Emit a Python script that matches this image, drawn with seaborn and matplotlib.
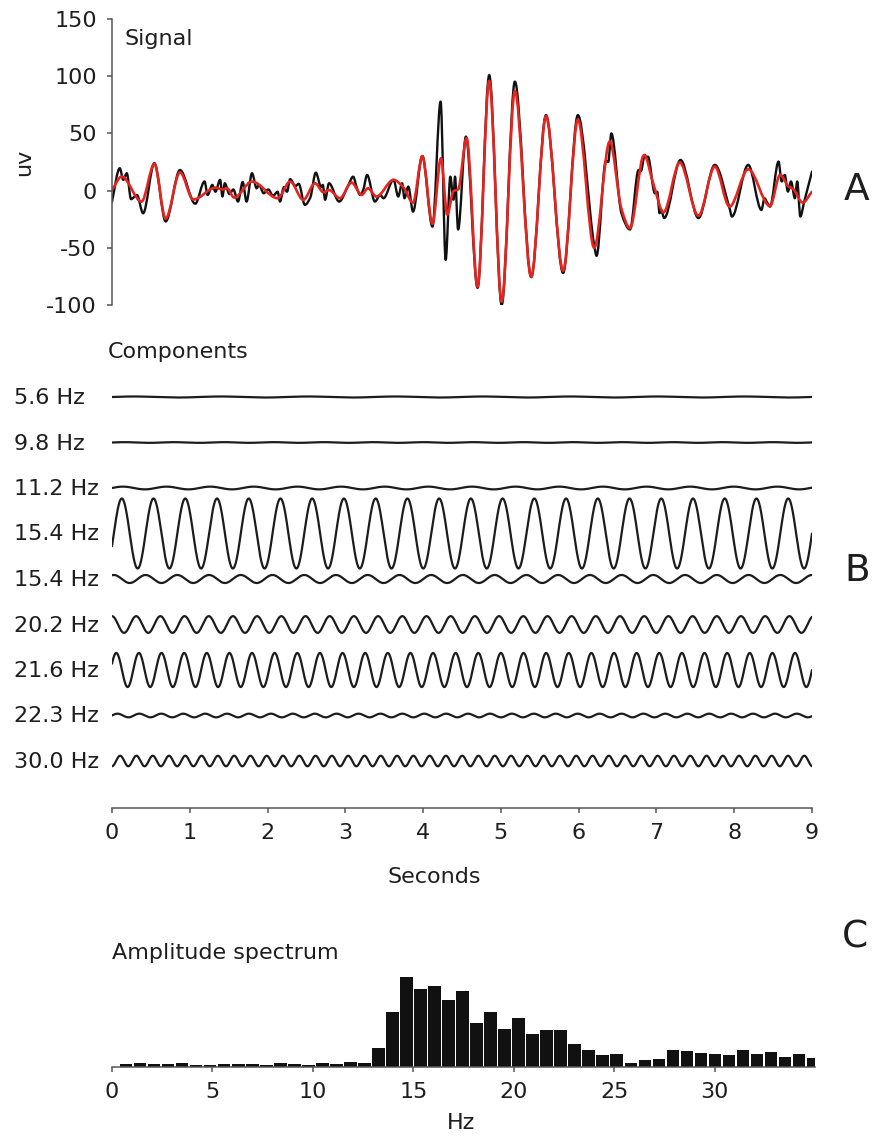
import numpy as np
import pandas as pd
import matplotlib
matplotlib.use("Agg")
import matplotlib.pyplot as plt
from matplotlib.path import Path
from matplotlib.patches import PathPatch
import seaborn as sns

# ---------------- data ----------------
# Panel A: filtered signal (red) - extrema/turning points, seconds / uV
signal_t = [0.00, 0.125, 0.38, 0.545, 0.69, 0.874, 1.045, 1.33, 1.42, 1.48, 1.57, 1.80, 2.13,
            2.29, 2.46, 2.61, 2.72, 2.79, 2.93, 3.08, 3.21, 3.29, 3.40, 3.62, 3.75, 3.87,
            3.99, 4.12, 4.23, 4.31, 4.39, 4.45, 4.56, 4.70, 4.85, 5.01, 5.18, 5.39, 5.58,
            5.80, 5.99, 6.20, 6.40, 6.55, 6.66, 6.84, 6.97, 7.09, 7.30, 7.54, 7.75, 7.94,
            8.18, 8.46, 8.59, 8.70, 8.76, 8.88, 9.00]
signal_v = [0.5, 12.3, -9.6, 23.3, -24.5, 16.0, -7.8, 2.5, 1.0, 2.0, -6.1, 7.9, -6.7,
            7.9, -8.1, 6.4, -1.5, 0.5, -6.7, 7.0, -3.8, 2.0, -5.2, 9.4, 2.5, -10.5,
            30.0, -29.0, 28.3, -21.0, -0.5, 1.0, 45.8, -84.0, 96.0, -97.0, 87.0, -75.5, 65.0,
            -70.0, 62.0, -50.0, 43.0, -16.0, -32.9, 31.0, 3.5, -19.0, 24.5, -22.0, 21.0, -14.0,
            18.7, -13.5, 13.7, 3.5, 1.2, -10.5, -0.9]

# Panel A: raw signal (black) - extrema/turning points, seconds / uV
raw_t = [0.00, 0.10, 0.145, 0.19, 0.245, 0.32, 0.40, 0.545, 0.69, 0.874, 1.07, 1.19, 1.23,
         1.29, 1.33, 1.39, 1.42, 1.45, 1.51, 1.56, 1.62, 1.68, 1.73, 1.80, 1.86, 1.89,
         1.95, 2.01, 2.07, 2.13, 2.16, 2.21, 2.25, 2.29, 2.36, 2.40, 2.48, 2.55, 2.62,
         2.69, 2.71, 2.74, 2.79, 2.92, 3.04, 3.10, 3.15, 3.19, 3.23, 3.28, 3.38, 3.45,
         3.49, 3.62, 3.68, 3.73, 3.76, 3.81, 3.87, 3.99, 4.12, 4.225, 4.29, 4.35, 4.39,
         4.41, 4.45, 4.55, 4.70, 4.85, 5.01, 5.18, 5.39, 5.58, 5.80, 5.99, 6.20, 6.23,
         6.35, 6.38, 6.42, 6.55, 6.66, 6.77, 6.80, 6.85, 6.87, 6.89, 6.98, 7.01, 7.04,
         7.06, 7.10, 7.31, 7.54, 7.75, 7.94, 7.97, 8.18, 8.35, 8.39, 8.42, 8.46, 8.57,
         8.61, 8.65, 8.69, 8.73, 8.78, 8.81, 8.85, 8.90, 9.00]
raw_v = [-9.6, 19.6, 9.4, 15.2, -7.5, -3.8, -19.8, 24.0, -27.0, 18.0, -11.5, 8.0, -3.8,
         5.0, -1.0, 9.4, -5.2, 6.4, -3.0, 1.0, -9.6, 7.5, -9.6, 15.2, 2.0, 5.0,
         -2.3, 1.0, -4.5, -1.0, -9.6, 3.0, -1.0, 10.0, 4.0, 6.0, -12.5, -6.0, 15.7,
         3.0, 5.0, -8.0, 6.4, -9.6, 5.0, 12.2, 2.0, -3.8, 0.6, 13.7, -9.6, -3.8,
         -6.7, 9.4, -5.2, 6.4, -6.7, 3.5, -18.4, 30.3, -31.5, 77.8, -60.6, 12.2, -8.0,
         12.2, -34.0, 47.2, -85.0, 101.0, -100.0, 95.3, -75.5, 66.0, -72.0, 66.0, -48.0, -57.0,
         26.0, 25.0, 50.0, -19.8, -34.0, 18.0, 17.0, 31.2, 29.0, 29.7, -2.3, -1.0, -19.8,
         -17.0, -24.0, 26.8, -24.0, 22.5, -15.4, -22.7, 22.5, -16.9, -6.7, -10.0, -14.0, 25.4,
         8.0, 13.7, -0.9, 8.0, -6.7, 8.0, -22.7, -9.6, 16.6]

# Panel B: components
comp_labels = ["5.6 Hz", "9.8 Hz", "11.2 Hz", "15.4 Hz", "15.4 Hz",
               "20.2 Hz", "21.6 Hz", "22.3 Hz", "30.0 Hz"]
comp_freq = [5.6, 9.8, 11.2, 15.4, 15.4, 20.2, 21.6, 22.3, 30.0]
comp_amp = [0.45, 0.3, 1.2, 30.6, 3.5, 7.3, 14.9, 1.6, 4.6]          # uV
comp_phase = [0.0, 0.0, 0.0, -0.37, 1.2, 1.571, 0.38, 0.0, -1.571]   # rad

# Panel C: amplitude spectrum (bins of 2*pi/9 Hz, k = 1..50)
spec_amp = [3, 3.7, 3, 3, 3.7, 2, 2.3, 2.7, 2.7, 3, 2, 3.7, 2.7, 2, 4, 3.3, 5, 3.7,
            18.7, 55, 90, 78, 81.5, 67, 76, 44, 55.5, 38, 49.5, 33, 36.7, 36.7, 22.7,
            17.3, 11.7, 13.3, 4.3, 6.7, 7.7, 17.3, 16, 14.3, 12.7, 11.7, 17.3, 12.7,
            15, 10, 13.3, 9.3]
spec_freq = np.arange(1, len(spec_amp) + 1) * (2 * np.pi / 9)

yticks_A = [-100, -50, 0, 50, 100, 150]
xticks_B = list(range(0, 10))
xticks_C = [0, 5, 10, 15, 20, 25, 30]

# ---------------- style ----------------
sns.set_theme(style="ticks")
plt.rcParams["font.family"] = ["DejaVu Sans"]
plt.rcParams["axes.unicode_minus"] = False

W, H = 879, 1137
FS = 16
TXT = "#1e1e1e"
AX = "#555555"
fig = plt.figure(figsize=(W / 100, H / 100), dpi=100)


def fx(px):
    return px / W


def fy(py):
    return 1 - py / H


def smooth_path(t, v):
    t = np.asarray(t, float)
    v = np.asarray(v, float)
    d = np.diff(v) / np.diff(t)
    m = np.zeros_like(v)
    m[0], m[-1] = d[0], d[-1]
    for i in range(1, len(v) - 1):
        if d[i - 1] * d[i] > 0:
            m[i] = 2.0 / (1.0 / d[i - 1] + 1.0 / d[i])
    verts = [(t[0], v[0])]
    codes = [Path.MOVETO]
    for i in range(len(t) - 1):
        h = t[i + 1] - t[i]
        verts += [(t[i] + h / 3, v[i] + m[i] * h / 3),
                  (t[i + 1] - h / 3, v[i + 1] - m[i + 1] * h / 3),
                  (t[i + 1], v[i + 1])]
        codes += [Path.CURVE4] * 3
    return Path(verts, codes)


def style_axis(ax):
    for s in ax.spines.values():
        s.set_color(AX)
        s.set_linewidth(1.1)
    ax.tick_params(colors=AX, labelcolor=TXT, labelsize=FS, width=1.1, length=3.8)
    ax.set_facecolor("none")


# ---------------- Panel A ----------------
axA = fig.add_axes([fx(112), fy(305), 700 / W, 286 / H])
axA.set_xlim(0, 9)
axA.set_ylim(-100, 150)
axA.add_patch(PathPatch(smooth_path(raw_t, raw_v), fill=False, edgecolor="#111111",
                        lw=1.7, joinstyle="round", capstyle="round"))
axA.add_patch(PathPatch(smooth_path(signal_t, signal_v), fill=False, edgecolor="#e3241f",
                        lw=1.9, joinstyle="round", capstyle="round"))
style_axis(axA)
axA.spines["top"].set_visible(False)
axA.spines["right"].set_visible(False)
axA.spines["bottom"].set_visible(False)
axA.set_xticks([])
axA.set_yticks(yticks_A)
axA.set_yticklabels([str(v) for v in yticks_A])
axA.tick_params(axis="y", pad=7)

fig.text(fx(125), fy(45), "Signal", fontsize=FS, color=TXT, va="baseline", ha="left")
fig.text(fx(24), fy(162), "uv", fontsize=FS, color=TXT, rotation=90, va="center", ha="center")
fig.text(fx(857), fy(190), "A", fontsize=27, color=TXT, va="center", ha="center")

# ---------------- Panel B ----------------
axB = fig.add_axes([fx(112), fy(808), 700 / W, 438 / H])
scale_px = 1.144          # pixels per uV (same as panel A)
row_gap = 45.5 / scale_px
top_row = 411 / scale_px
axB.set_xlim(0, 9)
axB.set_ylim(0, 438 / scale_px)

t = np.linspace(0, 9, 4000)
frames = []
for i, (f, a, p) in enumerate(zip(comp_freq, comp_amp, comp_phase)):
    frames.append(pd.DataFrame({"t": t,
                                "y": top_row - i * row_gap + a * np.sin(f * t + p),
                                "comp": f"c{i}"}))
comp_df = pd.concat(frames, ignore_index=True)
sns.lineplot(data=comp_df, x="t", y="y", units="comp", estimator=None, sort=False,
             color="#1c1c1c", lw=1.6, ax=axB, legend=False)
style_axis(axB)
for s in ["top", "right", "left"]:
    axB.spines[s].set_visible(False)
axB.set_yticks([])
axB.set_xticks(xticks_B)
axB.set_xticklabels([str(v) for v in xticks_B])
axB.tick_params(axis="x", pad=7)
axB.set_xlabel("")
axB.set_ylabel("")

fig.text(fx(108), fy(358), "Components", fontsize=FS, color=TXT, va="baseline", ha="left")
for i, lab in enumerate(comp_labels):
    fig.text(fx(14), fy(398 + 45.5 * i), lab, fontsize=FS, color=TXT, va="center", ha="left")
fig.text(fx(434), fy(877), "Seconds", fontsize=FS, color=TXT, va="center", ha="center")
fig.text(fx(857), fy(571), "B", fontsize=27, color=TXT, va="center", ha="center")

# ---------------- Panel C ----------------
axC = fig.add_axes([fx(112), fy(1067), 703 / W, 107 / H])
spec_df = pd.DataFrame({"Hz": spec_freq, "amp": spec_amp})
sns.barplot(data=spec_df, x="Hz", y="amp", native_scale=True, width=0.9,
            color="#111111", saturation=1, linewidth=0, errorbar=None, ax=axC)
axC.set_xlim(0, 35)
axC.set_ylim(0, 107)
style_axis(axC)
for s in ["top", "right", "left"]:
    axC.spines[s].set_visible(False)
axC.set_yticks([])
axC.set_xticks(xticks_C)
axC.set_xticklabels([str(v) for v in xticks_C])
axC.tick_params(axis="x", pad=7)
axC.set_xlabel("")
axC.set_ylabel("")

fig.text(fx(112), fy(959), "Amplitude spectrum", fontsize=FS, color=TXT, va="baseline", ha="left")
fig.text(fx(461), fy(1123), "Hz", fontsize=FS, color=TXT, va="center", ha="center")
fig.text(fx(855), fy(937), "C", fontsize=27, color=TXT, va="center", ha="center")

fig.savefig("out.png", dpi=100, facecolor="white")
